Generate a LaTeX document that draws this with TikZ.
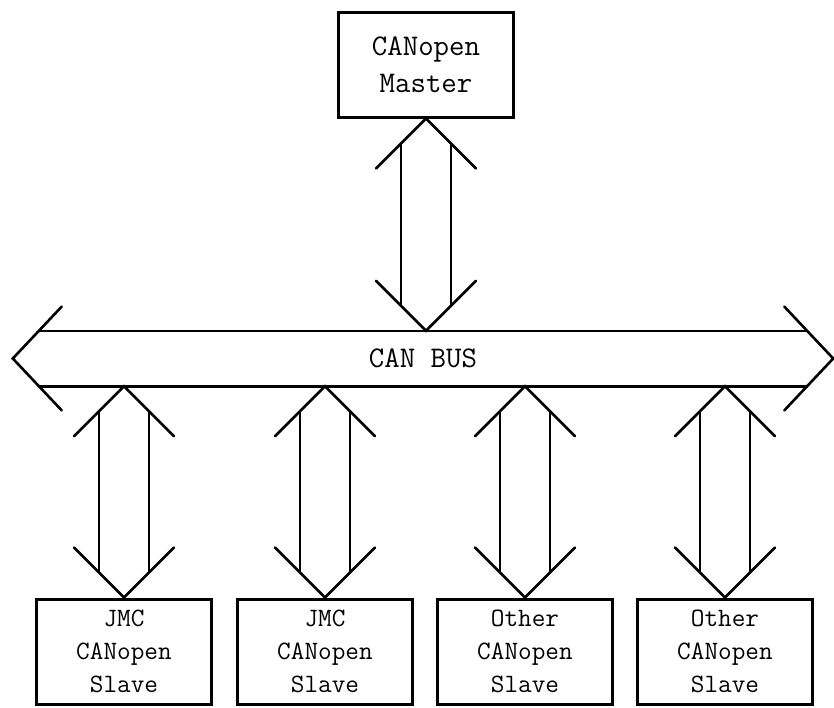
\documentclass[tikz,border=0pt]{standalone}
\usepackage{fontspec}
\usetikzlibrary{calc}

\tikzset{
  unit/.style={draw, line width=3pt, inner sep=0pt, align=center,
    minimum width=175pt, minimum height=105pt},
  masterfont/.style={font=\ttfamily\fontsize{30}{37}\selectfont},
  slavefont/.style={font=\ttfamily\fontsize{26.5}{33}\selectfont},
  wire/.style={line width=2.6pt, line cap=round, line join=miter},
}

% hollow two-headed arrow between an upper tip #1 and a lower tip #2
\newcommand\duplexlink[2]{%
  \draw[wire] ($(#1)+(-50,50)$) -- (#1) -- ($(#1)+(50,50)$);
  \draw[wire] ($(#2)+(-50,-50)$) -- (#2) -- ($(#2)+(50,-50)$);
  \draw[wire] ($(#1)+(-25,25)$) -- ($(#2)+(-25,-25)$);
  \draw[wire] ($(#1)+(25,25)$) -- ($(#2)+(25,-25)$);
}

\begin{document}
\begin{tikzpicture}[x=1pt, y=-1pt]
  \useasboundingbox[fill=white] (0,0) rectangle (834,707);

  % master station
  \node[unit, masterfont] (master) at (426,64.5) {CANopen\\Master};

  % bus body
  \node[inner sep=0pt, minimum width=768pt, minimum height=55pt,
        masterfont] (bus) at (423,358.5) {CAN BUS};
  \coordinate (busL) at ($(bus.west)+(-26,0)$);
  \coordinate (busR) at ($(bus.east)+(26,0)$);
  \draw[wire] (bus.north west) -- (bus.north east);
  \draw[wire] (bus.south west) -- (bus.south east);
  \draw[wire] ($(busL)+(49,-52)$) -- (busL) -- ($(busL)+(49,52)$);
  \draw[wire] ($(busR)+(-49,-52)$) -- (busR) -- ($(busR)+(-49,52)$);

  % slave stations
  \node[unit, slavefont] (s1) at (124,651.5) {JMC\\CANopen\\Slave};
  \node[unit, slavefont] (s2) at (325,651.5) {JMC\\CANopen\\Slave};
  \node[unit, slavefont] (s3) at (525,651.5) {Other\\CANopen\\Slave};
  \node[unit, slavefont] (s4) at (725,651.5) {Other\\CANopen\\Slave};

  % links
  \coordinate (m0) at (master.south);
  \coordinate (m1) at (bus.north -| master.south);
  \duplexlink{m0}{m1}
  \foreach \s in {s1,s2,s3,s4}{
    \coordinate (\s top) at (bus.south -| \s.north);
    \coordinate (\s bot) at (\s.north);
    \duplexlink{\s top}{\s bot}
  }
\end{tikzpicture}
\end{document}
